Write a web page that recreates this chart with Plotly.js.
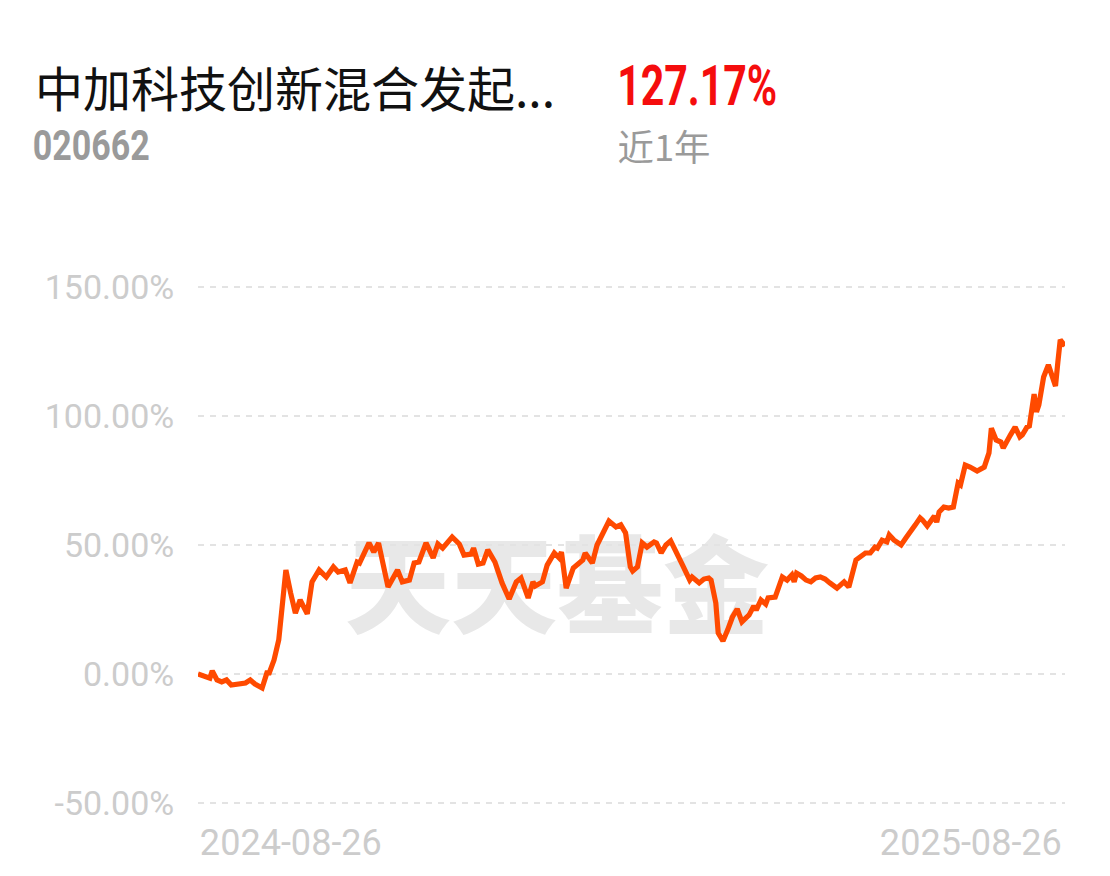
<!DOCTYPE html>
<html>
<head>
<meta charset="utf-8">
<script src="https://cdn.plot.ly/plotly-3.0.1.min.js"></script>
<style>
html,body{margin:0;padding:0;background:#fff;}
#chart{width:1110px;height:876px;}
</style>
</head>
<body>
<div id="chart"></div>
<script>
const fundName = '中加科技创新混合发起...';
const fundCode = '020662';
const periodReturn = '127.17%';
const periodLabel = '近1年';
const watermarkText = '天天基金';

const dates = [
'2024-08-26','2024-08-31','2024-09-01','2024-09-03','2024-09-05','2024-09-07','2024-09-09','2024-09-13','2024-09-15','2024-09-17',
'2024-09-19','2024-09-22','2024-09-24','2024-09-25','2024-09-27','2024-09-29','2024-10-02','2024-10-04','2024-10-06','2024-10-08',
'2024-10-11','2024-10-13','2024-10-16','2024-10-19','2024-10-22','2024-10-24','2024-10-27','2024-10-29','2024-11-01','2024-11-02',
'2024-11-06','2024-11-08','2024-11-10','2024-11-14','2024-11-18','2024-11-20','2024-11-23','2024-11-25','2024-11-27','2024-11-30',
'2024-12-03','2024-12-05','2024-12-07','2024-12-11','2024-12-14','2024-12-16','2024-12-19','2024-12-20','2024-12-22','2024-12-24',
'2024-12-26','2024-12-29','2025-01-01','2025-01-04','2025-01-07','2025-01-09','2025-01-12','2025-01-14','2025-01-15','2025-01-18',
'2025-01-20','2025-01-23','2025-01-25','2025-01-26','2025-01-28','2025-01-31','2025-02-04','2025-02-05','2025-02-08','2025-02-10',
'2025-02-12','2025-02-13','2025-02-15','2025-02-18','2025-02-20','2025-02-22','2025-02-24','2025-02-25','2025-02-27','2025-03-01',
'2025-03-03','2025-03-06','2025-03-07','2025-03-09','2025-03-11','2025-03-13','2025-03-16','2025-03-18','2025-03-19','2025-03-21',
'2025-03-22','2025-03-25','2025-03-27','2025-03-29','2025-03-30','2025-04-01','2025-04-02','2025-04-04','2025-04-06','2025-04-08',
'2025-04-10','2025-04-12','2025-04-15','2025-04-17','2025-04-18','2025-04-20','2025-04-22','2025-04-23','2025-04-26','2025-04-27',
'2025-04-29','2025-05-01','2025-05-03','2025-05-04','2025-05-05','2025-05-07','2025-05-09','2025-05-11','2025-05-13','2025-05-15',
'2025-05-17','2025-05-19','2025-05-22','2025-05-25','2025-05-27','2025-05-30','2025-06-01','2025-06-03','2025-06-05','2025-06-07',
'2025-06-08','2025-06-10','2025-06-12','2025-06-13','2025-06-15','2025-06-18','2025-06-20','2025-06-22','2025-06-24','2025-06-26',
'2025-06-27','2025-06-29','2025-07-01','2025-07-02','2025-07-03','2025-07-04','2025-07-06','2025-07-08','2025-07-10','2025-07-12',
'2025-07-13','2025-07-15','2025-07-17','2025-07-20','2025-07-23','2025-07-25','2025-07-26','2025-07-28','2025-07-30','2025-07-31',
'2025-08-03','2025-08-05','2025-08-07','2025-08-08','2025-08-10','2025-08-11','2025-08-13','2025-08-14','2025-08-15','2025-08-17',
'2025-08-19','2025-08-21','2025-08-22','2025-08-23','2025-08-24','2025-08-26'
];

const returns = [
0.0,-1.6,1.2,-2.3,-3.1,-2.3,-4.3,-3.5,-3.5,-2.3,
-3.9,-5.4,0.4,0.4,5.4,13.2,40.3,31.4,23.6,28.7,
23.3,35.7,40.3,37.6,41.5,39.5,40.3,35.3,43.4,43.0,
50.8,47.3,50.8,33.7,40.3,35.7,36.4,43.0,43.4,50.8,
45.0,50.4,48.8,53.1,50.4,46.1,46.5,48.8,42.6,43.0,
48.1,43.4,35.3,29.1,35.7,37.2,29.5,35.7,34.1,35.7,
42.2,46.9,45.0,47.3,33.3,41.1,44.2,46.9,43.0,50.0,
53.9,54.7,59.3,57.0,57.8,54.7,41.5,39.9,41.5,50.8,
49.2,51.2,50.8,46.9,50.0,51.6,45.3,42.2,40.3,36.4,
37.6,35.3,36.8,37.2,36.4,27.5,15.9,12.8,17.1,22.1,
25.2,20.2,22.9,26.4,24.8,28.7,27.1,29.5,29.8,32.6,
37.6,36.4,38.4,35.7,39.1,38.0,36.4,35.7,37.2,37.6,
36.8,35.3,33.3,35.7,33.7,44.2,45.3,46.9,46.9,49.2,
48.8,51.9,51.2,53.9,51.9,50.0,52.7,55.0,57.8,60.5,
59.7,57.4,60.5,61.2,58.9,62.8,64.7,64.3,64.7,74.0,
73.3,81.0,80.2,78.7,80.2,85.7,95.3,90.7,89.9,87.6,
92.6,95.7,91.9,92.6,95.7,96.1,108.5,101.6,104.3,115.1,
119.8,115.1,111.6,120.9,129.5,127.17
];

const yTickVals = [-50, 0, 50, 100, 150];
const yTickText = ['-50.00%', '0.00%', '50.00%', '100.00%', '150.00%'];
const xTickLabels = ['2024-08-26', '2025-08-26'];

const W = 1110, H = 876;
const L = 198, R = 45, T = 276, B = 62;
const pw = W - L - R, ph = H - T - B;
const pxPerUnit = 2.58;           // 129 px per 50 %
const yZeroPx = 674;              // pixel row of 0 %
const yTop = (yZeroPx - T) / pxPerUnit;
const yBottom = -(H - B - yZeroPx) / pxPerUnit;

const px2x = px => (px - L) / pw;
const px2y = py => 1 - (py - T) / ph;

const trace = {
  x: dates, y: returns, type: 'scatter', mode: 'lines',
  line: {color: '#ff4a00', width: 5.2, shape: 'linear'},
  hoverinfo: 'skip'
};

const headerTexts = [
  {text: fundName, cx: 295, cy: 86, size: 48, family: 'Noto Sans CJK SC', color: '#111111', weight: 400, len: 520},
  {text: periodReturn, cx: 697, cy: 86, size: 56, family: 'Roboto', color: '#f50d0d', weight: 700, len: 160},
  {text: fundCode, cx: 91.5, cy: 145, size: 42, family: 'Roboto', color: '#9a9a9a', weight: 700, len: 117},
  {text: periodLabel, cx: 663.5, cy: 145, size: 36, family: 'Noto Sans CJK SC', color: '#9a9a9a', weight: 400, len: 93},
  {text: xTickLabels[0], cx: 291, cy: 843, size: 36, family: 'Roboto', color: '#cccccc', weight: 400, len: 182},
  {text: xTickLabels[1], cx: 971, cy: 843, size: 36, family: 'Roboto', color: '#cccccc', weight: 400, len: 182}
];

const annotations = headerTexts.map(h => ({
  text: h.text, xref: 'paper', yref: 'paper', x: px2x(h.cx), y: px2y(h.cy),
  xanchor: 'center', yanchor: 'middle', showarrow: false,
  font: {family: h.family, size: h.size, color: h.color, weight: h.weight}
}));

const shapes = [{
  type: 'rect', xref: 'paper', yref: 'paper', layer: 'below',
  x0: px2x(345), x1: px2x(769), y0: px2y(650), y1: px2y(542),
  line: {width: 0}, fillcolor: 'rgba(0,0,0,0)',
  label: {text: watermarkText, textposition: 'middle center',
    font: {family: 'Noto Sans CJK SC', size: 106, color: '#e8e8e8', weight: 900}}
}];

const layout = {
  width: W, height: H,
  margin: {l: L, r: R, t: T, b: B, pad: 0},
  paper_bgcolor: '#ffffff', plot_bgcolor: '#ffffff',
  showlegend: false,
  xaxis: {type: 'date', range: ['2024-08-26', '2025-08-26'], showgrid: false, zeroline: false,
    showline: false, showticklabels: false, ticks: '', fixedrange: true},
  yaxis: {range: [yBottom, yTop], tickvals: yTickVals, ticktext: yTickText,
    showgrid: true, gridcolor: '#e3e3e3', gridwidth: 2, griddash: '6px,6px', zeroline: false, showline: false,
    ticks: 'outside', ticklen: 16, tickcolor: 'rgba(0,0,0,0)',
    tickfont: {family: 'Roboto', size: 34, color: '#cccccc'}, fixedrange: true},
  shapes: shapes,
  annotations: annotations
};

Plotly.newPlot('chart', [trace], layout, {displayModeBar: false, staticPlot: true}).then(gd => {
  const nodes = gd.querySelectorAll('.annotation-text');
  nodes.forEach(n => {
    const h = headerTexts.find(t => t.text === n.textContent);
    if (h && h.len) {
      n.setAttribute('textLength', h.len);
      n.setAttribute('lengthAdjust', 'spacingAndGlyphs');
    }
  });
});
</script>
</body>
</html>
